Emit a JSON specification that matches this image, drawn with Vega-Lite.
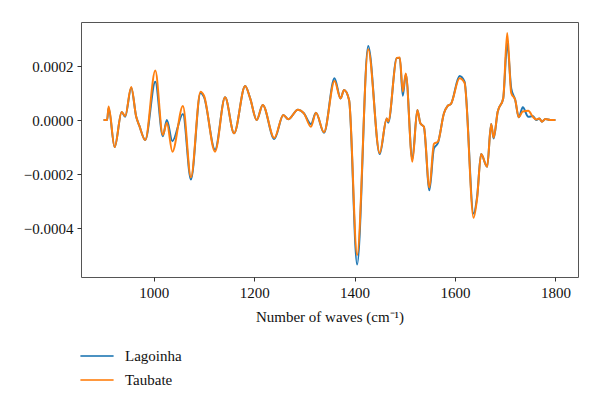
{
  "$schema": "https://vega.github.io/schema/vega-lite/v6.json",
  "autosize": {"type": "none"},
  "padding": {"left": 81, "top": 22, "right": 22, "bottom": 130},
  "width": 497,
  "height": 255,
  "config": {
    "font": "Liberation Serif",
    "view": {"stroke": "#555", "strokeWidth": 1},
    "axis": {"labelFont": "Liberation Serif", "titleFont": "Liberation Serif", "labelFontSize": 15, "titleFontSize": 15, "labelColor": "#111", "titleColor": "#111", "titleFontWeight": "normal", "tickColor": "#333", "tickSize": 4, "domain": false, "grid": false, "labelPadding": 4}
  },
  "datasets": {
    "spec": [
      {"x": 900, "Lagoinha": 0, "Taubate": 0},
      {"x": 907, "Lagoinha": 0, "Taubate": 0},
      {"x": 910, "Lagoinha": 0.45, "Taubate": 0.5},
      {"x": 922, "Lagoinha": -1.0, "Taubate": -1.0},
      {"x": 936, "Lagoinha": 0.3, "Taubate": 0.3},
      {"x": 943, "Lagoinha": 0.12, "Taubate": 0.15},
      {"x": 955, "Lagoinha": 1.2, "Taubate": 1.22},
      {"x": 965, "Lagoinha": 0.12, "Taubate": 0.12},
      {"x": 971, "Lagoinha": -0.2, "Taubate": -0.2},
      {"x": 983, "Lagoinha": -0.74, "Taubate": -0.74},
      {"x": 1003, "Lagoinha": 1.42, "Taubate": 1.83},
      {"x": 1018, "Lagoinha": -0.6, "Taubate": -0.55},
      {"x": 1026, "Lagoinha": 0.0, "Taubate": -0.1},
      {"x": 1037, "Lagoinha": -0.78, "Taubate": -1.17},
      {"x": 1058, "Lagoinha": 0.22, "Taubate": 0.52},
      {"x": 1074, "Lagoinha": -2.2, "Taubate": -2.12},
      {"x": 1093, "Lagoinha": 1.0, "Taubate": 1.05},
      {"x": 1100, "Lagoinha": 0.85, "Taubate": 0.9},
      {"x": 1122, "Lagoinha": -1.1, "Taubate": -1.17},
      {"x": 1142, "Lagoinha": 0.84, "Taubate": 0.84},
      {"x": 1160, "Lagoinha": -0.49, "Taubate": -0.49},
      {"x": 1182, "Lagoinha": 1.26, "Taubate": 1.26},
      {"x": 1192, "Lagoinha": 0.8, "Taubate": 0.8},
      {"x": 1205, "Lagoinha": 0, "Taubate": 0},
      {"x": 1217, "Lagoinha": 0.56, "Taubate": 0.56},
      {"x": 1240, "Lagoinha": -0.7, "Taubate": -0.66},
      {"x": 1258, "Lagoinha": 0.19, "Taubate": 0.19},
      {"x": 1268, "Lagoinha": 0.03, "Taubate": 0.03},
      {"x": 1287, "Lagoinha": 0.38, "Taubate": 0.38},
      {"x": 1299, "Lagoinha": 0.25, "Taubate": 0.25},
      {"x": 1313, "Lagoinha": -0.15, "Taubate": -0.25},
      {"x": 1323, "Lagoinha": 0.27, "Taubate": 0.27},
      {"x": 1339, "Lagoinha": -0.47, "Taubate": -0.45},
      {"x": 1360, "Lagoinha": 1.55, "Taubate": 1.45},
      {"x": 1372, "Lagoinha": 0.8, "Taubate": 0.8},
      {"x": 1379, "Lagoinha": 1.11, "Taubate": 1.11},
      {"x": 1389, "Lagoinha": 0.74, "Taubate": 0.74},
      {"x": 1405, "Lagoinha": -5.35, "Taubate": -5.0},
      {"x": 1427, "Lagoinha": 2.74, "Taubate": 2.62},
      {"x": 1450, "Lagoinha": -1.26, "Taubate": -1.22},
      {"x": 1464, "Lagoinha": 0.06, "Taubate": 0.06},
      {"x": 1467, "Lagoinha": -0.1, "Taubate": -0.05},
      {"x": 1484, "Lagoinha": 2.3, "Taubate": 2.3},
      {"x": 1490, "Lagoinha": 2.3, "Taubate": 2.32},
      {"x": 1496, "Lagoinha": 0.9, "Taubate": 1.05},
      {"x": 1502, "Lagoinha": 1.7, "Taubate": 1.72},
      {"x": 1515, "Lagoinha": -1.45, "Taubate": -1.54},
      {"x": 1525, "Lagoinha": 0.37, "Taubate": 0.37},
      {"x": 1531, "Lagoinha": -0.12, "Taubate": -0.12},
      {"x": 1538, "Lagoinha": -0.25, "Taubate": -0.25},
      {"x": 1549, "Lagoinha": -2.6, "Taubate": -2.5},
      {"x": 1558, "Lagoinha": -1.05, "Taubate": -0.88},
      {"x": 1566, "Lagoinha": -0.85, "Taubate": -0.8},
      {"x": 1578, "Lagoinha": 0.25, "Taubate": 0.25},
      {"x": 1585, "Lagoinha": 0.52, "Taubate": 0.52},
      {"x": 1592, "Lagoinha": 0.6, "Taubate": 0.6},
      {"x": 1609, "Lagoinha": 1.63, "Taubate": 1.55},
      {"x": 1619, "Lagoinha": 1.42, "Taubate": 1.38},
      {"x": 1637, "Lagoinha": -3.46, "Taubate": -3.62},
      {"x": 1644, "Lagoinha": -2.84, "Taubate": -2.9},
      {"x": 1652, "Lagoinha": -1.26, "Taubate": -1.26},
      {"x": 1664, "Lagoinha": -1.73, "Taubate": -1.73},
      {"x": 1672, "Lagoinha": -0.15, "Taubate": -0.15},
      {"x": 1677, "Lagoinha": -0.68, "Taubate": -0.65},
      {"x": 1685, "Lagoinha": 0.31, "Taubate": 0.31},
      {"x": 1696, "Lagoinha": 0.8, "Taubate": 0.8},
      {"x": 1704, "Lagoinha": 2.84, "Taubate": 3.22},
      {"x": 1712, "Lagoinha": 1.17, "Taubate": 1.0},
      {"x": 1720, "Lagoinha": 0.74, "Taubate": 0.74},
      {"x": 1727, "Lagoinha": 0.1, "Taubate": 0.1},
      {"x": 1735, "Lagoinha": 0.47, "Taubate": 0.32},
      {"x": 1746, "Lagoinha": 0.12, "Taubate": 0.34},
      {"x": 1755, "Lagoinha": 0.15, "Taubate": 0.12},
      {"x": 1762, "Lagoinha": 0.0, "Taubate": 0.02},
      {"x": 1768, "Lagoinha": 0.06, "Taubate": 0.06},
      {"x": 1773, "Lagoinha": -0.06, "Taubate": -0.06},
      {"x": 1780, "Lagoinha": 0.04, "Taubate": 0.04},
      {"x": 1790, "Lagoinha": 0.0, "Taubate": 0.0},
      {"x": 1800, "Lagoinha": 0.0, "Taubate": 0.0}
    ]
  },
  "data": {"name": "spec"},
  "transform": [
    {"fold": ["Lagoinha", "Taubate"], "as": ["series", "v"]},
    {"calculate": "datum.v * 0.0001", "as": "y"}
  ],
  "mark": {"type": "line", "interpolate": "monotone", "strokeWidth": 2},
  "encoding": {
    "x": {"field": "x", "type": "quantitative", "scale": {"domain": [855, 1845], "nice": false, "zero": false},
      "axis": {"values": [1000, 1200, 1400, 1600, 1800], "format": "d", "title": "Number of waves (cm⁻¹)", "titlePadding": 9}},
    "y": {"field": "y", "type": "quantitative", "scale": {"domain": [-0.000581, 0.000363], "nice": false, "zero": false},
      "axis": {"values": [-0.0004, -0.0002, 0, 0.0002], "format": ".4f", "title": null}},
    "color": {"field": "series", "type": "nominal", "scale": {"domain": ["Lagoinha", "Taubate"], "range": ["#1f77b4", "#ff7f0e"]},
      "legend": {"orient": "none", "legendX": -2, "legendY": 325, "title": null, "symbolType": "stroke", "symbolSize": 1100, "symbolStrokeWidth": 2, "clipHeight": 18, "labelFontSize": 15, "labelFont": "Liberation Serif", "labelColor": "#111", "labelOffset": 10, "rowPadding": 6, "symbolOpacity": 0.8}},
    "order": {"field": "series"}
  }
}
